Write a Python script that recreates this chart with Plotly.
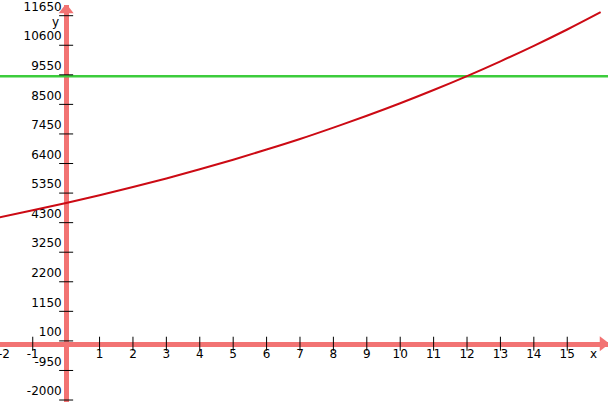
import plotly.graph_objects as go

# curve at whole x steps
curve_x = [-2, -1, 0, 1, 2, 3, 4, 5, 6, 7, 8, 9, 10, 11, 12, 13, 14, 15, 16]
curve_y = [4490, 4740, 5000, 5275, 5565, 5870, 6195, 6535, 6895, 7270,
           7675, 8095, 8540, 9010, 9505, 10030, 10580, 11160, 11775]

level_y = 9500

x_ticks = [-2, -1, 1, 2, 3, 4, 5, 6, 7, 8, 9, 10, 11, 12, 13, 14, 15]
y_ticks = [-2000, -950, 100, 1150, 2200, 3250, 4300, 5350, 6400,
           7450, 8500, 9550, 10600, 11650]

x_range = [-1.98, 16.22]
y_range = [-2070, 12030]

axis_red = "#f27373"
font = dict(family="DejaVu Sans", size=12, color="black")

fig = go.Figure()

# green level line
fig.add_trace(go.Scatter(
    x=x_range, y=[level_y, level_y],
    mode="lines",
    line=dict(color="#3ccc3c", width=2.6),
    hoverinfo="skip"
))

# tick marks crossing the axes
fig.add_trace(go.Scatter(
    x=x_ticks, y=[0] * len(x_ticks),
    mode="markers",
    marker=dict(symbol="line-ns", size=10, line=dict(color="black", width=1)),
    hoverinfo="skip"
))
fig.add_trace(go.Scatter(
    x=[0] * len(y_ticks), y=y_ticks,
    mode="markers",
    marker=dict(symbol="line-ew", size=10, line=dict(color="black", width=1)),
    hoverinfo="skip"
))

# the curve
fig.add_trace(go.Scatter(
    x=curve_x, y=curve_y,
    mode="lines",
    line=dict(color="#cc0a14", width=2, shape="spline"),
    hoverinfo="skip"
))

# arrow heads
fig.add_trace(go.Scatter(
    x=[0], y=[y_range[1] - 180],
    mode="markers",
    marker=dict(symbol="triangle-up", size=13, color=axis_red),
    hoverinfo="skip"
))
fig.add_trace(go.Scatter(
    x=[x_range[1] - 0.15], y=[0],
    mode="markers",
    marker=dict(symbol="triangle-right", size=13, color=axis_red),
    hoverinfo="skip"
))

# the leftmost x label sits just past the edge of the range
fig.add_annotation(x=0, xref="paper", y=0, text=str(x_ticks[0]),
                   showarrow=False, xanchor="left", xshift=-4, yshift=-10,
                   font=font)
fig.add_annotation(x=15.8, y=0, text="x", showarrow=False, yshift=-10,
                   font=font)
fig.add_annotation(x=-0.33, y=11420, text="y", showarrow=False, font=font)

fig.update_layout(
    width=608, height=402,
    margin=dict(l=0, r=0, t=0, b=0),
    plot_bgcolor="white",
    paper_bgcolor="white",
    showlegend=False,
    xaxis=dict(
        range=x_range,
        anchor="free",
        position=(0 - y_range[0]) / (y_range[1] - y_range[0]),
        showgrid=False, zeroline=False,
        showline=True, linecolor=axis_red, linewidth=5,
        ticks="",
        tickvals=x_ticks[1:],
        ticktext=[str(v) for v in x_ticks[1:]],
        tickfont=font,
        ticklabelstandoff=-3,
        ticklabeloverflow="allow",
        layer="below traces",
    ),
    yaxis=dict(
        range=y_range,
        anchor="free",
        position=(0 - x_range[0]) / (x_range[1] - x_range[0]),
        showgrid=False, zeroline=False,
        showline=True, linecolor=axis_red, linewidth=5,
        ticks="",
        tickvals=y_ticks,
        ticktext=[str(v) for v in y_ticks],
        tickfont=font,
        ticklabelshift=-9,
        ticklabeloverflow="allow",
        layer="below traces",
    ),
)

fig.write_html("out.html", config={"displayModeBar": False},
               post_script="document.body.style.margin='0';")
